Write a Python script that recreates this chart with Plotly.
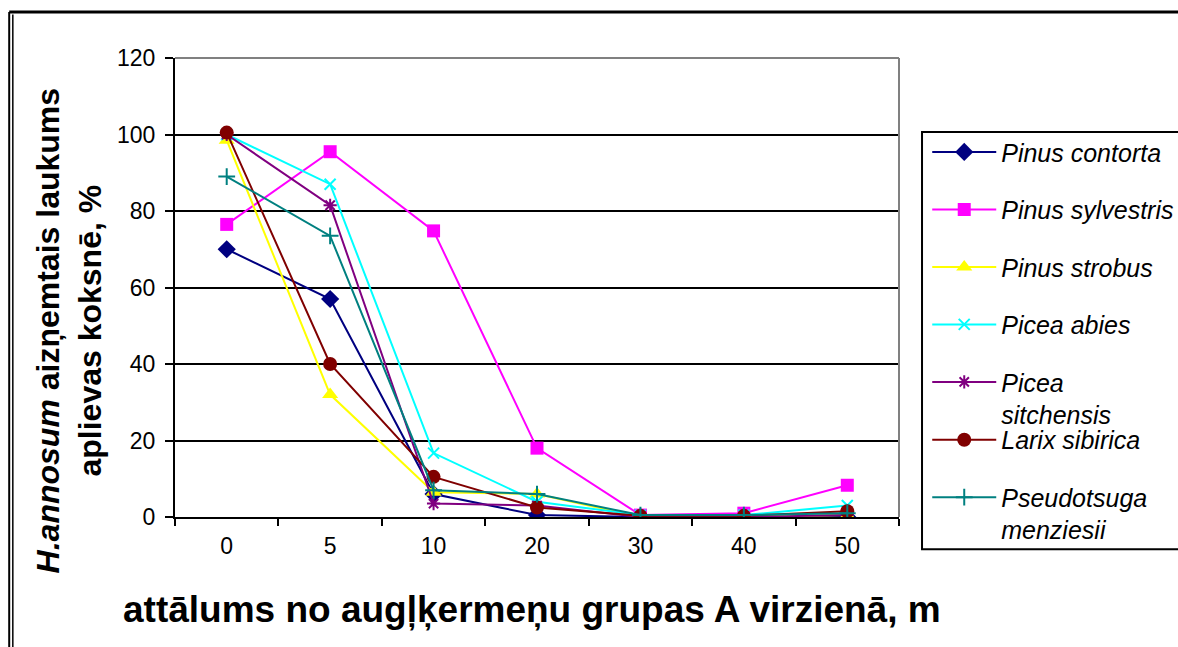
import plotly.graph_objects as go

# distance groups (m) along direction A
distances = ["0", "5", "10", "20", "30", "40", "50"]

pinus_contorta = [70, 57, 6, 0.5, 0, 0, 0]
pinus_sylvestris = [76.5, 95.5, 74.8, 18, 0.5, 1, 8.3]
pinus_strobus = [98.5, 32, 6.5, 6, 0, 0, 0.5]
picea_abies = [100, 87, 16.7, 4, 0.5, 0.5, 3]
picea_sitchensis = [100, 81.5, 3.5, 3, 0, 0, 0.5]
larix_sibirica = [100.5, 40, 10.5, 2.5, 0.3, 0.3, 1.5]
pseudotsuga_menziesii = [89, 73.5, 7, 6, 0.5, 0.5, 1]

y_ticks = [0, 20, 40, 60, 80, 100, 120]

series = [
    ("Pinus contorta", pinus_contorta, "#000080", "diamond", 14, "legend"),
    ("Pinus sylvestris", pinus_sylvestris, "#FF00FF", "square", 13, "legend"),
    ("Pinus strobus", pinus_strobus, "#FFFF00", "triangle-up", 14, "legend"),
    ("Picea abies", picea_abies, "#00FFFF", "x-thin", 11, "legend"),
    ("Picea<br>sitchensis", picea_sitchensis, "#800080", "asterisk", 11, "legend"),
    ("Larix sibirica", larix_sibirica, "#800000", "circle", 14, "legend2"),
    ("Pseudotsuga<br>menziesii", pseudotsuga_menziesii, "#008080", "cross-thin", 12, "legend2"),
]

fig = go.Figure()
for name, vals, color, symbol, size, leg in series:
    thin = symbol in ("x-thin", "asterisk", "cross-thin")
    fig.add_trace(go.Scatter(
        x=distances, y=vals, name=name, mode="lines+markers",
        line=dict(color=color, width=2),
        marker=dict(symbol=symbol, size=size, color=color,
                    line=dict(color=color, width=2 if thin else 0)),
        legend=leg, legendgroup=name,
    ))

legend_common = dict(
    font=dict(family="Arial, Liberation Sans, sans-serif", size=25, color="black", style="italic"),
    bgcolor="rgba(0,0,0,0)", borderwidth=0, itemwidth=64, tracegroupgap=22,
    xanchor="left", yanchor="top", valign="top",
)

fig.update_layout(
    width=1178, height=647,
    margin=dict(l=175, r=279, t=58, b=130, autoexpand=False),
    paper_bgcolor="white", plot_bgcolor="white",
    showlegend=True,
    legend=dict(x=1.039, y=0.845, **legend_common),
    legend2=dict(x=1.039, y=0.218, **legend_common),
    font=dict(family="Arial, Liberation Sans, sans-serif", color="black"),
    xaxis=dict(
        type="category", categoryorder="array", categoryarray=distances,
        range=[-0.5, 6.5],
        showgrid=False, showline=True, linecolor="black", linewidth=2,
        ticks="outside", tickson="boundaries", ticklen=7, tickwidth=2, tickcolor="black",
        tickfont=dict(size=23), ticklabelstandoff=7, zeroline=False,
    ),
    yaxis=dict(
        range=[0, 120], tickvals=y_ticks, showgrid=True, gridcolor="black", gridwidth=2,
        showline=True, linecolor="black", linewidth=2,
        ticks="outside", ticklen=8, tickwidth=2, tickcolor="black",
        tickfont=dict(size=23), ticklabelstandoff=5, zeroline=False,
    ),
    shapes=[
        # plot area top/right edges
        dict(type="line", xref="paper", yref="paper", x0=0, x1=1, y0=1, y1=1,
             line=dict(color="#808080", width=2), layer="above"),
        dict(type="line", xref="paper", yref="paper", x0=1, x1=1, y0=0, y1=1,
             line=dict(color="#808080", width=2), layer="above"),
        # legend box (runs off the right edge)
        dict(type="rect", xref="paper", yref="paper", x0=1.0318, x1=1.42, y0=-0.07, y1=0.839,
             line=dict(color="black", width=2)),
        # outer chart frame
        dict(type="line", xref="paper", yref="paper", x0=-0.229, x1=1.42, y0=1.1, y1=1.1,
             line=dict(color="black", width=3)),
        dict(type="line", xref="paper", yref="paper", x0=-0.229, x1=-0.229, y0=-0.3, y1=1.1,
             line=dict(color="black", width=2)),
        dict(type="line", xref="paper", yref="paper", x0=-0.224, x1=-0.224, y0=-0.3, y1=1.095,
             line=dict(color="black", width=1.5)),
    ],
    annotations=[
        dict(text="<b><i>H.annosum</i> aizņemtais laukums<br>aplievas koksnē, %</b>",
             xref="paper", yref="paper", x=-0.146, y=0.405, textangle=-90,
             xanchor="center", yanchor="middle",
             showarrow=False, font=dict(size=32), align="center"),
        dict(text="<b>attālums no augļķermeņu grupas A virzienā, m</b>",
             xref="paper", yref="paper", x=0.493, y=-0.203, yanchor="middle",
             showarrow=False, font=dict(size=37)),
    ],
)

fig.write_html("out.html")
